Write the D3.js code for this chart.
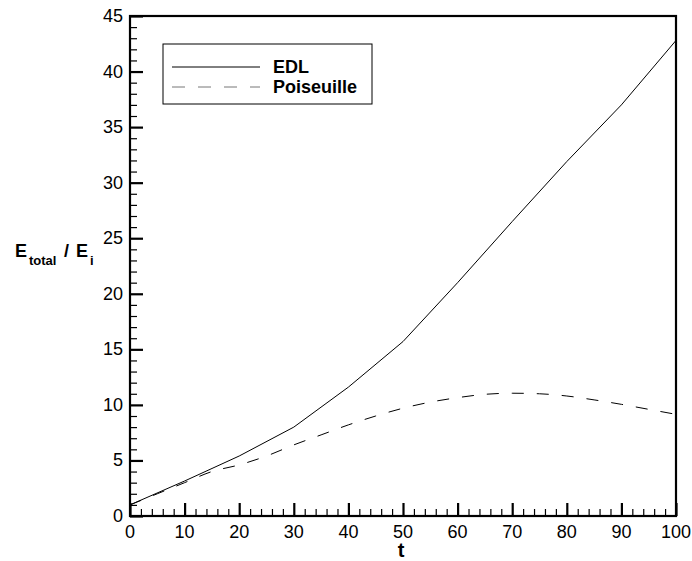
<!DOCTYPE html>
<html><head><meta charset="utf-8">
<script src="https://cdn.jsdelivr.net/npm/d3@7"></script>
<style>body{margin:0;background:#fff}svg{display:block}text{font-family:"Liberation Sans",Arial,sans-serif}</style>
</head><body><svg id="c" width="692" height="561"></svg>
<script>
const tValues = [0,10,20,30,40,50,60,70,80,90,100];
const edl = [1.0,3.15,5.4,8.0,11.6,15.7,21.0,26.5,31.9,37.0,42.8];
const poiseuilleT = [0,5,10,15,20,25,30,35,40,45,50,55,60,65,70,75,80,85,90,95,100];
const poiseuille = [1.0,2.0,3.0,4.0,4.6,5.4,6.4,7.3,8.2,9.0,9.7,10.25,10.65,10.95,11.05,11.0,10.8,10.45,10.05,9.6,9.15];
const xTicks = [0,10,20,30,40,50,60,70,80,90,100];
const yTicks = [0,5,10,15,20,25,30,35,40,45];
const seriesNames = ["EDL","Poiseuille"];

const svg = d3.select("#c");
const L=130,R=676,T=16,B=516;
const x = d3.scaleLinear().domain([0,100]).range([L,R]);
const y = d3.scaleLinear().domain([0,45]).range([B,T]);

// minor ticks
const xMinor = d3.range(0,101,2).filter(v=>v%10!==0);
const yMinor = d3.range(0,46,1).filter(v=>v%5!==0);
svg.append("g").attr("transform",`translate(0,${B})`)
  .call(d3.axisTop(x).tickValues(xMinor).tickSize(7).tickFormat(""))
  .call(g=>{g.select(".domain").remove();g.selectAll("line").attr("stroke","#000").attr("stroke-width",1.2);});
svg.append("g").attr("transform",`translate(${L},0)`)
  .call(d3.axisRight(y).tickValues(yMinor).tickSize(7).tickFormat(""))
  .call(g=>{g.select(".domain").remove();g.selectAll("line").attr("stroke","#000").attr("stroke-width",1.2);});
// major ticks
svg.append("g").attr("transform",`translate(0,${B})`)
  .call(d3.axisTop(x).tickValues(xTicks).tickSize(13).tickFormat(""))
  .call(g=>{g.select(".domain").remove();g.selectAll("line").attr("stroke","#000").attr("stroke-width",2.2);});
svg.append("g").attr("transform",`translate(${L},0)`)
  .call(d3.axisRight(y).tickValues(yTicks).tickSize(13).tickFormat(""))
  .call(g=>{g.select(".domain").remove();g.selectAll("line").attr("stroke","#000").attr("stroke-width",2.2);});

// tick labels
svg.append("g").selectAll("text").data(xTicks).join("text")
  .attr("x",d=>x(d)).attr("y",B+21.5).attr("text-anchor","middle")
  .attr("font-size",18).text(d=>d);
svg.append("g").selectAll("text").data(yTicks).join("text")
  .attr("x",L-7).attr("y",d=>y(d)+6).attr("text-anchor","end")
  .attr("font-size",18).text(d=>d);

// lines
const line = d3.line().x(d=>x(d[0])).y(d=>y(d[1]));
svg.append("path").datum(tValues.map((t,i)=>[t,edl[i]]))
  .attr("d",line).attr("fill","none").attr("stroke","#000").attr("stroke-width",1);
const pLine = d3.line().curve(d3.curveMonotoneX).x(d=>x(d[0])).y(d=>y(d[1]));
svg.append("path").datum(poiseuilleT.map((t,i)=>[t,poiseuille[i]]))
  .attr("d",pLine)
  .attr("fill","none").attr("stroke","#000").attr("stroke-width",1).attr("stroke-dasharray","12,13");

// frame
svg.append("rect").attr("x",L).attr("y",T).attr("width",R-L).attr("height",B-T)
  .attr("fill","none").attr("stroke","#000").attr("stroke-width",2.2);

// legend
const lg = svg.append("g");
lg.append("rect").attr("x",163).attr("y",44).attr("width",209).attr("height",60)
  .attr("fill","#fff").attr("stroke","#000").attr("stroke-width",1);
const legY=[67,87];
seriesNames.forEach((n,i)=>{
  lg.append("line").attr("x1",172).attr("x2",260).attr("y1",legY[i]).attr("y2",legY[i])
    .attr("stroke",i?"#777":"#000").attr("stroke-width",1).attr("stroke-dasharray",i?"13,13":null);
  lg.append("text").attr("x",273).attr("y",legY[i]+6).attr("font-size",18).attr("font-weight","bold").text(n);
});

// axis titles
svg.append("text").attr("x",x(50)-2).attr("y",557).attr("text-anchor","middle")
  .attr("font-size",20).attr("font-weight","bold").text("t");
const yt = svg.append("g").attr("font-weight","bold");
yt.append("text").attr("x",15).attr("y",257).attr("font-size",18).text("E");
yt.append("text").attr("x",29).attr("y",265).attr("font-size",13).text("total");
yt.append("text").attr("x",64).attr("y",257).attr("font-size",18).text("/");
yt.append("text").attr("x",76).attr("y",257).attr("font-size",18).text("E");
yt.append("text").attr("x",90).attr("y",265).attr("font-size",13).text("i");
</script></body></html>
